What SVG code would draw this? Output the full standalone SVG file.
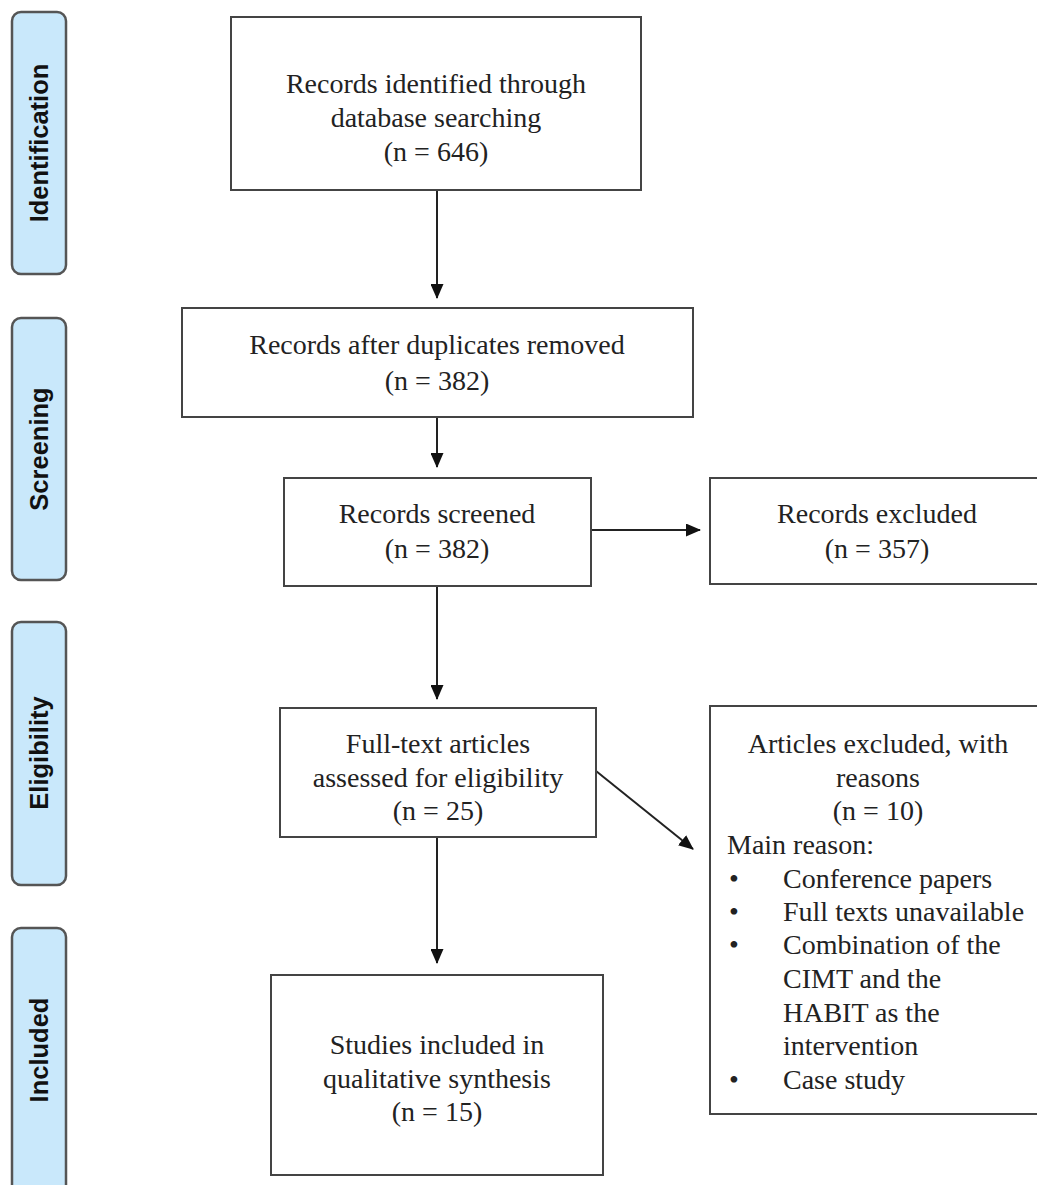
<svg xmlns="http://www.w3.org/2000/svg" width="1037" height="1185" viewBox="0 0 1037 1185">
<style>
.bx{fill:#fff;stroke:#444;stroke-width:2}
.ph{fill:#c9e8fb;stroke:#555;stroke-width:2.5}
.t{font-family:"Liberation Serif","Times New Roman",serif;font-size:28px;fill:#222}
.c{text-anchor:middle}
.pl{font-family:"Liberation Sans",Arial,sans-serif;font-weight:bold;font-size:25.5px;fill:#111;text-anchor:middle}
.ln{stroke:#222;stroke-width:2;fill:none}
</style>
<defs>
<marker id="ah" markerWidth="15" markerHeight="13" refX="14" refY="6.5" orient="auto" markerUnits="userSpaceOnUse" viewBox="0 0 15 13">
<path d="M0,0 L15,6.5 L0,13 z" fill="#111"/>
</marker>
</defs>
<rect width="1037" height="1185" fill="#fff"/>
<g id="phase-identification"><rect class="ph" x="12" y="12" width="54" height="262" rx="9"/><text class="pl" transform="translate(48,143) rotate(-90)">Identification</text></g>
<g id="phase-screening"><rect class="ph" x="12" y="318" width="54" height="262" rx="9"/><text class="pl" transform="translate(48,449) rotate(-90)">Screening</text></g>
<g id="phase-eligibility"><rect class="ph" x="12" y="622" width="54" height="263" rx="9"/><text class="pl" transform="translate(48,753) rotate(-90)">Eligibility</text></g>
<g id="phase-included"><rect class="ph" x="12" y="928" width="54" height="270" rx="9"/><text class="pl" transform="translate(48,1050) rotate(-90)">Included</text></g>

<g id="connectors">
<line class="ln" x1="437" y1="190" x2="437" y2="298" marker-end="url(#ah)"/>
<line class="ln" x1="437" y1="417" x2="437" y2="467" marker-end="url(#ah)"/>
<line class="ln" x1="591" y1="530" x2="700" y2="530" marker-end="url(#ah)"/>
<line class="ln" x1="437" y1="586" x2="437" y2="699" marker-end="url(#ah)"/>
<line class="ln" x1="596" y1="771" x2="693" y2="849" marker-end="url(#ah)"/>
<line class="ln" x1="437" y1="837" x2="437" y2="963" marker-end="url(#ah)"/>
</g>

<g id="identified"><rect class="bx" x="231" y="17" width="410" height="173"/>
<text class="t c" x="436" y="93">Records identified through</text>
<text class="t c" x="436" y="127">database searching</text>
<text class="t c" x="436" y="161">(n = 646)</text></g>

<g id="duplicates"><rect class="bx" x="182" y="308" width="511" height="109"/>
<text class="t c" x="437" y="354">Records after duplicates removed</text>
<text class="t c" x="437" y="390">(n = 382)</text></g>

<g id="screened"><rect class="bx" x="284" y="478" width="307" height="108"/>
<text class="t c" x="437" y="523">Records screened</text>
<text class="t c" x="437" y="558">(n = 382)</text></g>

<g id="excluded"><rect class="bx" x="710" y="478" width="330" height="106"/>
<text class="t c" x="877" y="523">Records excluded</text>
<text class="t c" x="877" y="558">(n = 357)</text></g>

<g id="fulltext"><rect class="bx" x="280" y="708" width="316" height="129"/>
<text class="t c" x="438" y="753">Full-text articles</text>
<text class="t c" x="438" y="787">assessed for eligibility</text>
<text class="t c" x="438" y="820">(n = 25)</text></g>

<g id="articles-excluded"><rect class="bx" x="710" y="706" width="330" height="408"/>
<text class="t c" x="878" y="753">Articles excluded, with</text>
<text class="t c" x="878" y="787">reasons</text>
<text class="t c" x="878" y="820">(n = 10)</text>
<text class="t" x="727" y="854">Main reason:</text>
<text class="t" x="729" y="888">•</text><text class="t" x="783" y="888">Conference papers</text>
<text class="t" x="729" y="921">•</text><text class="t" x="783" y="921">Full texts unavailable</text>
<text class="t" x="729" y="954">•</text><text class="t" x="783" y="954">Combination of the</text>
<text class="t" x="783" y="988">CIMT and the</text>
<text class="t" x="783" y="1022">HABIT as the</text>
<text class="t" x="783" y="1055">intervention</text>
<text class="t" x="729" y="1089">•</text><text class="t" x="783" y="1089">Case study</text></g>

<g id="included"><rect class="bx" x="271" y="975" width="332" height="200"/>
<text class="t c" x="437" y="1054">Studies included in</text>
<text class="t c" x="437" y="1088">qualitative synthesis</text>
<text class="t c" x="437" y="1121">(n = 15)</text></g>
</svg>
